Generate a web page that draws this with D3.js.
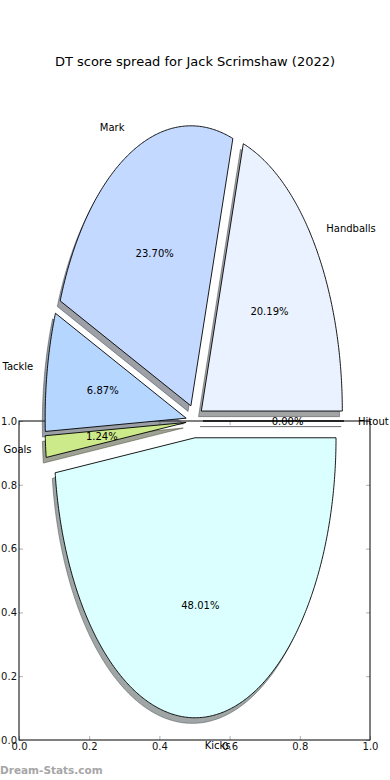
<!DOCTYPE html>
<html>
<head>
<meta charset="utf-8">
<script src="https://cdn.jsdelivr.net/npm/d3@7"></script>
<style>
  html, body { margin: 0; padding: 0; background: #fff; }
  svg { display: block; font-family: "DejaVu Sans", sans-serif; }
</style>
</head>
<body>
<svg id="chart" width="390" height="780"></svg>
<script>
// ---- data ----
const categories = ["Hitout", "Handballs", "Mark", "Tackle", "Goals", "Kicks"];
const values = [0.00, 20.19, 23.70, 6.87, 1.24, 48.01];
const colors = ["#d6e6ff", "#eaf2ff", "#c4d9ff", "#b5d6ff", "#cdea8a", "#dbffff"];
const tickValues = [0.0, 0.2, 0.4, 0.6, 0.8, 1.0];
const title = "DT score spread for Jack Scrimshaw (2022)";
const watermark = "Dream-Stats.com";

const svg = d3.select("#chart");

// ---- background (lower) axes 0..1 ----
const ax = d3.scaleLinear().domain([0, 1]).range([19, 370]);
const ay = d3.scaleLinear().domain([0, 1]).range([740, 421]);
const fmt = d3.format(".1f");

const axG = svg.append("g");
function styleAxis(g, labels) {
  g.select(".domain").remove();
  g.selectAll(".tick line").attr("stroke", "#b0b0b0").attr("stroke-width", 1);
  g.selectAll(".tick text").attr("fill", "#111").style("font-size", "10px")
    .style("font-family", "DejaVu Sans, sans-serif");
  if (!labels) g.selectAll(".tick text").remove();
}
axG.append("g").attr("transform", "translate(0,740)")
  .call(d3.axisBottom(ax).tickValues(tickValues).tickFormat(fmt).tickSizeInner(-4).tickSizeOuter(0).tickPadding(3))
  .call(g => styleAxis(g, true));
axG.append("g").attr("transform", "translate(0,421)")
  .call(d3.axisTop(ax).tickValues(tickValues).tickSizeInner(-4).tickSizeOuter(0))
  .call(g => styleAxis(g, false));
axG.append("g").attr("transform", "translate(19,0)")
  .call(d3.axisLeft(ay).tickValues(tickValues).tickFormat(fmt).tickSizeInner(-4).tickSizeOuter(0).tickPadding(2))
  .call(g => styleAxis(g, true));
axG.append("g").attr("transform", "translate(370,0)")
  .call(d3.axisRight(ay).tickValues(tickValues).tickSizeInner(-4).tickSizeOuter(0))
  .call(g => styleAxis(g, false));
axG.append("rect")
  .attr("x", ax(0)).attr("y", ay(1))
  .attr("width", ax(1) - ax(0)).attr("height", ay(0) - ay(1))
  .attr("fill", "none").attr("stroke", "#000").attr("stroke-width", 1);

// ---- pie (elliptical, matplotlib style) ----
const cx = 194.5, cy = 421, rx = 141, ry = 280;
const px = d3.scaleLinear().domain([-1, 1]).range([cx - rx, cx + rx]);
const py = d3.scaleLinear().domain([-1, 1]).range([cy + ry, cy - ry]);
const explode = 0.06, labelDist = 1.1, pctDist = 0.6;
const total = d3.sum(values);

const arcs = d3.pie().sort(null).value(d => d).startAngle(0).endAngle(2 * Math.PI)(values);

const line = d3.line().x(d => px(d[0])).y(d => py(d[1]));

function wedgePts(a, ox, oy) {
  const n = Math.max(2, Math.ceil((a.endAngle - a.startAngle) / 0.01));
  const pts = [[ox, oy]];
  for (let i = 0; i <= n; i++) {
    const t = a.startAngle + (a.endAngle - a.startAngle) * i / n;
    pts.push([ox + Math.cos(t), oy + Math.sin(t)]);
  }
  pts.push([ox, oy]);
  return pts;
}

const pieData = arcs.map((a, i) => {
  const tm = (a.startAngle + a.endAngle) / 2;
  return {
    a, i, tm,
    ox: explode * Math.cos(tm),
    oy: explode * Math.sin(tm),
    name: categories[i],
    color: colors[i]
  };
});

// shadows first
const shadowG = svg.append("g");
pieData.forEach(d => {
  const c = d3.rgb(d.color);
  const sc = d3.rgb(c.r * 0.3, c.g * 0.3, c.b * 0.3).toString();
  shadowG.append("path")
    .attr("d", line(wedgePts(d.a, d.ox - 0.02, d.oy - 0.02)))
    .attr("fill", sc).attr("fill-opacity", 0.5)
    .attr("stroke", sc).attr("stroke-opacity", 0.5).attr("stroke-width", 1)
    .attr("stroke-linejoin", "miter");
});

// wedges
const wedgeG = svg.append("g");
pieData.forEach(d => {
  wedgeG.append("path")
    .attr("d", line(wedgePts(d.a, d.ox, d.oy)))
    .attr("fill", d.color)
    .attr("stroke", "#000").attr("stroke-width", 0.9)
    .attr("stroke-linejoin", "miter");
});

// labels
const textG = svg.append("g").style("font-size", "10px").attr("fill", "#000");
pieData.forEach(d => {
  const xt = d.ox + labelDist * Math.cos(d.tm);
  const yt = d.oy + labelDist * Math.sin(d.tm);
  textG.append("text")
    .attr("x", px(xt)).attr("y", py(yt))
    .attr("text-anchor", xt > 0 ? "start" : "end")
    .attr("dominant-baseline", "central")
    .text(d.name);
  const xp = d.ox + pctDist * Math.cos(d.tm);
  const yp = d.oy + pctDist * Math.sin(d.tm);
  textG.append("text")
    .attr("x", px(xp)).attr("y", py(yp))
    .attr("text-anchor", "middle")
    .attr("dominant-baseline", "central")
    .text(d3.format(".2f")(d.a.value / total * 100) + "%");
});

// title
svg.append("text")
  .attr("x", 195).attr("y", 61)
  .attr("text-anchor", "middle").attr("dominant-baseline", "central")
  .style("font-size", "13px").attr("fill", "#000")
  .text(title);

// watermark
svg.append("text")
  .attr("x", 0).attr("y", 770)
  .attr("dominant-baseline", "central")
  .style("font-size", "10.5px").style("font-weight", "bold")
  .attr("fill", "#a6a6a6")
  .text(watermark);
</script>
</body>
</html>
